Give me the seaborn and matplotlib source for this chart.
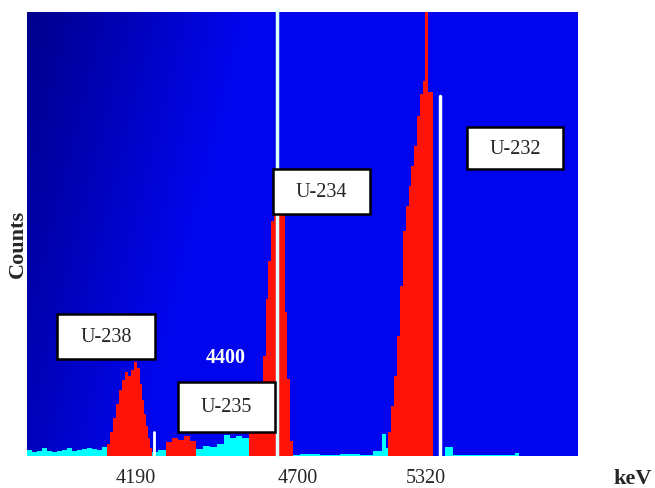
import numpy as np
import pandas as pd
import matplotlib
matplotlib.use("Agg")
import matplotlib.pyplot as plt
import seaborn as sns
from matplotlib.patches import Rectangle

# Alpha spectrum of uranium isotopes (channel axis, counts)
bg1_edges = [27, 32, 37, 42, 47, 52, 57, 62, 67, 72, 77, 82, 87, 92, 97, 102, 107]
bg1_counts = [6, 4, 5, 8, 5, 4, 5, 6, 8, 5, 6, 7, 8, 7, 6, 9]

u238_edges = [107, 110, 113, 116, 119, 122, 125, 128, 131, 134, 137, 140, 142, 144, 146, 148, 150, 152]
u238_counts = [12, 24, 38, 52, 66, 76, 84, 80, 86, 94, 88, 72, 56, 42, 30, 18, 8]

bg2_edges = [152, 158, 166]
bg2_counts = [4, 6]

u235_edges = [166, 172, 178, 184, 190, 196]
u235_counts = [14, 18, 16, 20, 15]

bg3_edges = [196, 203, 210, 217, 224, 230, 236, 242, 249]
bg3_counts = [7, 10, 9, 12, 21, 18, 20, 18]

u234_edges = [249, 256, 263, 266, 268, 271, 274, 277, 280, 283, 285, 287, 290, 293]
u234_counts = [26, 34, 100, 157, 195, 235, 250, 262, 258, 245, 144, 77, 15]

bg4_edges = [293, 300, 320, 340, 360, 373, 380, 382, 386, 388]
bg4_counts = [1, 2, 1, 2, 1, 5, 5, 22, 8]

u232_edges = [388, 391, 394, 397, 400, 403, 406, 409, 411, 414, 417, 420, 423, 425, 428, 433]
u232_counts = [24, 50, 80, 120, 170, 225, 250, 270, 290, 310, 340, 362, 375, 470, 364]

bg5_edges = [445, 453, 515, 519, 578]
bg5_counts = [9, 1, 3, 0]

tick_pos = [136, 298, 426]
tick_labels = ["4190", "4700", "5320"]

RED = "#ff1208"
CYAN = "#00ffff"

sns.set_style("white")
plt.rcParams["font.family"] = ["Liberation Serif", "DejaVu Serif"]

fig = plt.figure(figsize=(6.55, 4.89), dpi=100)
ax = fig.add_axes([27 / 655, 1 - 457 / 489, 551 / 655, 444 / 489])

# blue screen background, darker towards the upper left
ny, nx = 120, 200
u = np.linspace(0, 1, nx)[None, :]
v = np.linspace(0, 1, ny)[:, None]
d = np.clip(u / 0.4 + v * 0.5, 0, 1)
b = 0.55 + 0.38 * d
grad = np.zeros((ny, nx, 3))
grad[..., 2] = b
grad[..., 1] = 0.02 * d
ax.imshow(grad, extent=[27, 578, 0, 444], aspect="auto", origin="upper", zorder=0)


def draw_segment(edges, counts, color):
    centres = [(a + b) / 2 for a, b in zip(edges[:-1], edges[1:])]
    # one entry per count, so the histogram heights equal the counts
    df = pd.DataFrame({"channel": np.repeat(centres, counts)})
    sns.histplot(data=df, x="channel", bins=list(edges), element="step",
                 fill=True, color=color, alpha=1, linewidth=0, ax=ax, zorder=2)


for e, c in [(bg1_edges, bg1_counts), (bg2_edges, bg2_counts), (bg3_edges, bg3_counts),
             (bg4_edges, bg4_counts), (bg5_edges, bg5_counts)]:
    draw_segment(e, c, CYAN)
for e, c in [(u238_edges, u238_counts), (u235_edges, u235_counts),
             (u234_edges, u234_counts), (u232_edges, u232_counts)]:
    draw_segment(e, c, RED)

ax.set_xlim(27, 578)
ax.set_ylim(0, 444)

# marker lines
ax.plot([277, 277], [0, 447], color="#dcffff", lw=2.5, zorder=3, clip_on=False)
ax.plot([154, 154], [0, 24], color="white", lw=2, zorder=3)
ax.plot([440, 440], [0, 360], color="white", lw=2.5, zorder=3)

# isotope label boxes
boxes = [("U-238", 57, 97, 98, 45), ("U-235", 178, 24, 97, 50),
         ("U-234", 273, 242, 97, 45), ("U-232", 467, 287, 96, 42)]
for name, x0, y0, w, h in boxes:
    ax.add_patch(Rectangle((x0, y0), w, h, facecolor="white", edgecolor="black",
                           lw=1.8, zorder=4))
    ax.text(x0 + w / 2, y0 + h / 2, name, ha="center", va="center",
            fontsize=14.5, zorder=5)

ax.text(226, 99, "4400", color="white", fontsize=14.5, fontweight="bold",
        ha="center", va="center", zorder=5)

ax.set_xticks(tick_pos)
ax.set_xticklabels(tick_labels, fontsize=14.5)
ax.set_yticks([])
ax.tick_params(axis="x", length=0, pad=9)
ax.set_xlabel("")
ax.set_ylabel("Counts", fontsize=16, fontweight="bold")
ax.yaxis.set_label_coords(0.002, 0.48)
for s in ax.spines.values():
    s.set_visible(False)

fig.text(633 / 655, 1 - 479 / 489, "keV", fontsize=16, fontweight="bold",
         ha="center", va="center")

fig.savefig("out.png", dpi=100)
